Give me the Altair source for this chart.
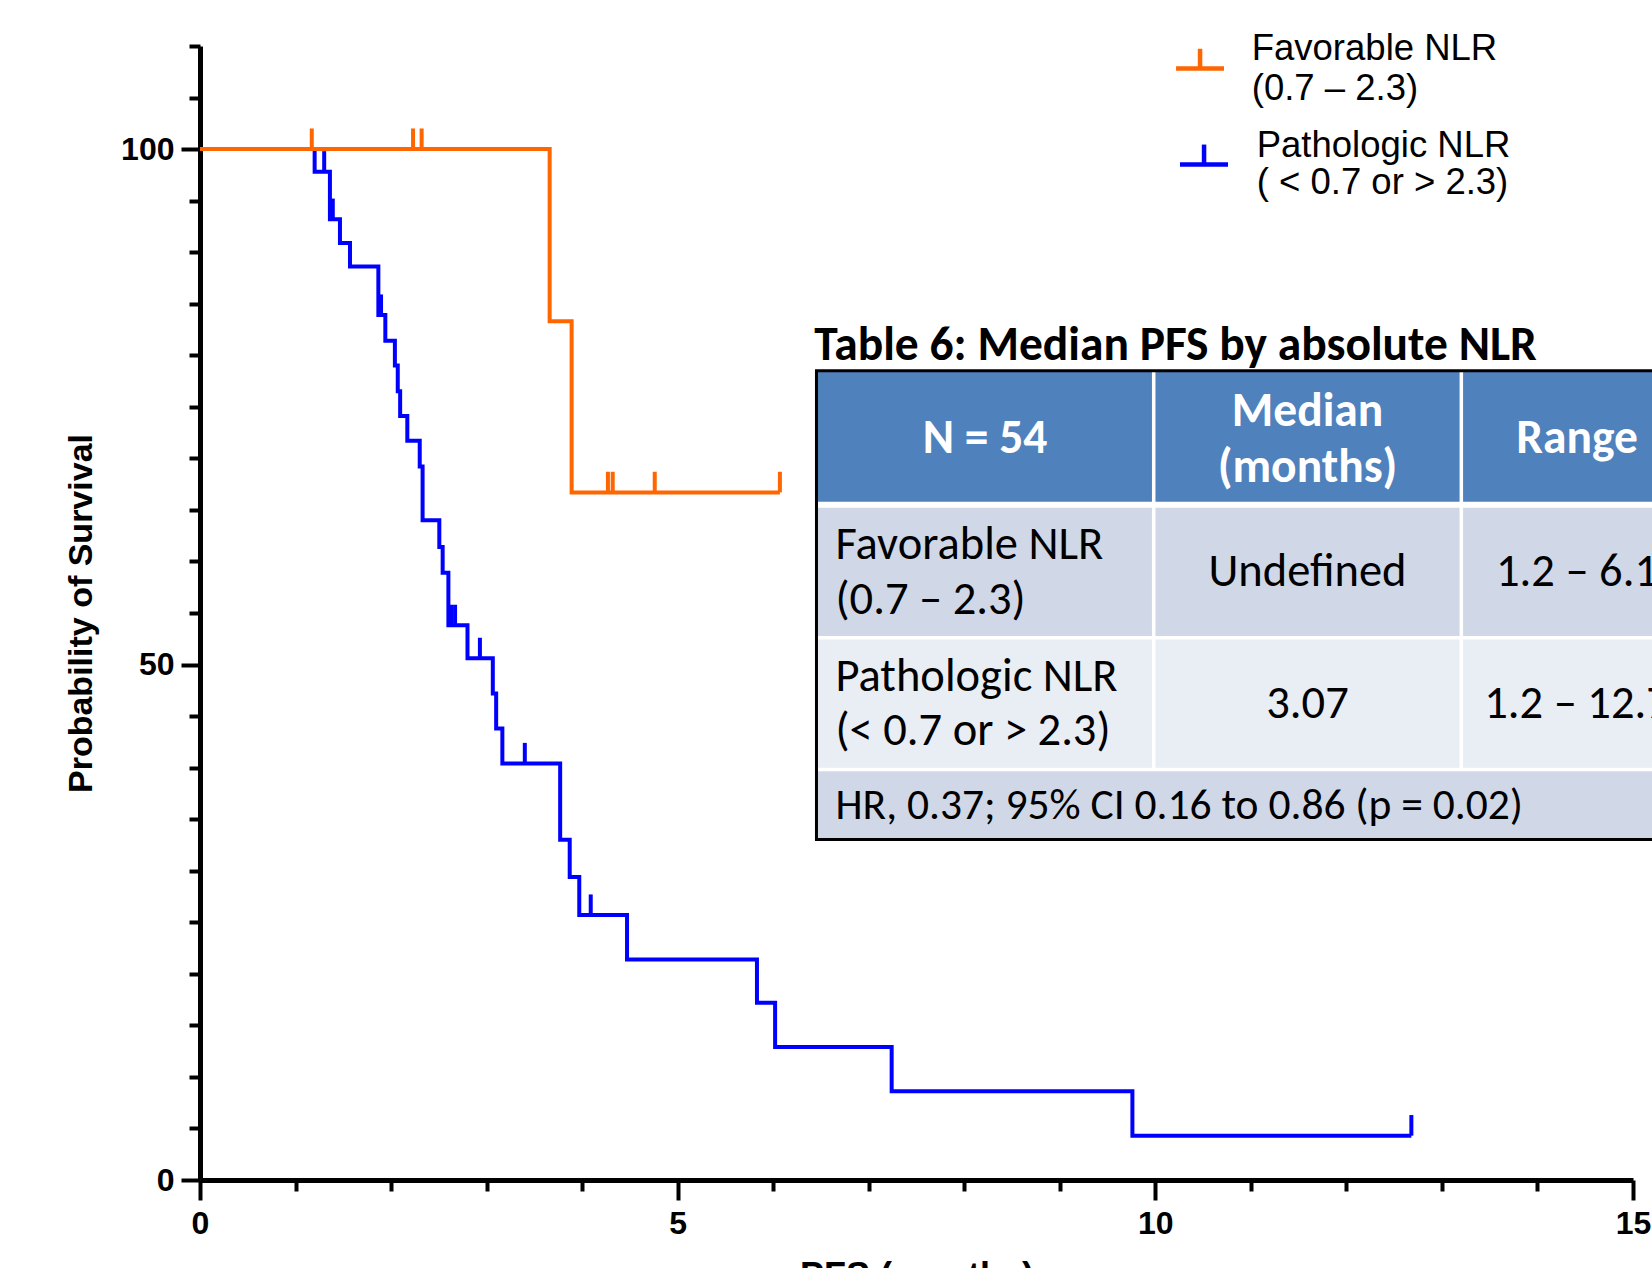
import altair as alt
import pandas as pd

# ---------------- data ----------------
fav_lines = ["Favorable NLR", "(0.7 – 2.3)"]
path_lines = ["Pathologic NLR", "( < 0.7 or > 2.3)"]

fav_time = [0.0, 3.66, 3.89, 6.07]
fav_surv = [100.0, 83.3, 66.7, 66.7]
fav_censor = [1.17, 2.23, 2.32, 4.27, 4.32, 4.76, 6.07]

path_time = [0.0, 1.20, 1.36, 1.465, 1.57, 1.867, 1.94, 2.04, 2.07, 2.095, 2.17, 2.30, 2.33,
             2.505, 2.54, 2.60, 2.80, 3.065, 3.10, 3.165, 3.77, 3.87, 3.97, 4.47, 5.83,
             6.02, 7.24, 9.76, 12.68]
path_surv = [100.0, 97.8, 93.2, 90.9, 88.6, 83.9, 81.4, 79.0, 76.5, 74.1, 71.7, 69.2, 64.0,
             61.4, 58.9, 53.8, 50.6, 47.2, 43.8, 40.4, 33.0, 29.4, 25.7, 21.4, 17.2,
             12.9, 8.6, 4.3, 4.3]
path_censor = [1.30, 1.39, 1.895, 2.63, 2.67, 2.93, 3.40, 4.09, 12.68]

x_ticks = list(range(0, 16))
y_ticks = list(range(0, 111, 5))

table_title = "Table 6: Median PFS by absolute NLR"
header_cells = ["N = 54", "Median", "(months)", "Range"]
row1_left = ["Favorable NLR", "(0.7 – 2.3)"]
row2_left = ["Pathologic NLR", "(< 0.7 or > 2.3)"]
row1_vals = ["Undefined", "1.2 – 6.1"]
row2_vals = ["3.07", "1.2 – 12.7"]
footer_text = "HR, 0.37; 95% CI 0.16 to 0.86 (p = 0.02)"

# ---------------- styles / layout (in chart data units) ----------------
ORANGE = "#FF6600"
BLUE = "#0000FF"
AX_FONT = "Liberation Sans"
TB_FONT = "Carlito, Lato, sans-serif"
CENSOR_H = 2.0

col_edges = [6.453, 9.983, 13.203, 16.2]
row_edges = [78.51, 65.5, 52.6, 39.83, 33.02]
row_fills = ["#4F81BD", "#D0D8E8", "#E9EDF4", "#D0D8E8"]
col_centers = [8.217, 11.593, 14.414]
text_left = 6.652


def surv_at(times, survs, t):
    v = survs[0]
    for ti, si in zip(times, survs):
        if ti <= t:
            v = si
    return v


xscale = alt.Scale(domain=[0, 15], nice=False, zero=False)
yscale = alt.Scale(domain=[0, 110], nice=False, zero=False)

xaxis = alt.Axis(
    values=x_ticks, grid=False, labelOverlap=False, labelFlush=False,
    labelExpr="datum.value % 5 === 0 ? datum.label : ''",
    tickSize={"condition": {"test": "datum.value % 5 === 0", "value": 20}, "value": 11},
    tickWidth=4, tickColor="black", domainColor="black", domainWidth=5,
    labelFont=AX_FONT, labelFontSize=32, labelFontWeight="bold", labelColor="black",
    labelPadding=8,
    title="PFS (months)", titleFont=AX_FONT, titleFontSize=36, titleFontWeight="bold",
    titleColor="black", titleY=107, titleBaseline="alphabetic",
)
yaxis = alt.Axis(
    values=y_ticks, grid=False, labelOverlap=False, labelFlush=False,
    labelExpr="datum.value % 50 === 0 ? datum.label : ''",
    tickSize={"condition": {"test": "datum.value % 50 === 0", "value": 19}, "value": 11},
    tickWidth=4, tickColor="black", domainColor="black", domainWidth=5,
    labelFont=AX_FONT, labelFontSize=32, labelFontWeight="bold", labelColor="black",
    labelPadding=7,
    title="Probability of Survival", titleFont=AX_FONT, titleFontSize=34,
    titleFontWeight="bold", titleColor="black", titleX=-119, titleBaseline="middle",
)


def X(f):
    return alt.X(f"{f}:Q", scale=xscale, axis=xaxis)


def Y(f):
    return alt.Y(f"{f}:Q", scale=yscale, axis=yaxis)


# ---------------- table ----------------
rect_df = pd.DataFrame({
    "x0": [col_edges[0]] * 4, "x1": [col_edges[-1]] * 4,
    "y0": row_edges[1:], "y1": row_edges[:-1], "fill": row_fills,
})
rects = alt.Chart(rect_df).mark_rect(strokeWidth=0).encode(
    x=X("x0"), x2="x1", y=Y("y0"), y2="y1", color=alt.Color("fill:N", scale=None))

sep_df = pd.DataFrame({
    "x0": [col_edges[0]] * 3 + [col_edges[1], col_edges[2]],
    "x1": [col_edges[-1]] * 3 + [col_edges[1], col_edges[2]],
    "y0": [row_edges[1], row_edges[2], row_edges[3], row_edges[3], row_edges[3]],
    "y1": [row_edges[1], row_edges[2], row_edges[3], row_edges[0], row_edges[0]],
    "w": [6, 3.5, 3.5, 3.5, 3.5],
})
seps = alt.Chart(sep_df).mark_rule(color="white").encode(
    x=X("x0"), x2="x1", y=Y("y0"), y2="y1", strokeWidth=alt.StrokeWidth("w:Q", scale=None))

border_df = pd.DataFrame({"x0": [col_edges[0]], "x1": [col_edges[-1]],
                          "y0": [row_edges[-1]], "y1": [row_edges[0]]})
border = alt.Chart(border_df).mark_rect(fillOpacity=0, stroke="black", strokeWidth=3).encode(
    x=X("x0"), x2="x1", y=Y("y0"), y2="y1")

title_df = pd.DataFrame({"x": [6.43], "y": [79.5], "text": [table_title]})
title_txt = alt.Chart(title_df).mark_text(
    align="left", baseline="alphabetic", font=TB_FONT, fontSize=47.5, fontWeight="bold",
    color="black").encode(x=X("x"), y=Y("y"), text="text:N")

head_df = pd.DataFrame({
    "x": [col_centers[0], col_centers[1], col_centers[1], col_centers[2]],
    "y": [71.91, 74.53, 69.1, 71.91], "text": header_cells})
head_txt = alt.Chart(head_df).mark_text(
    align="center", baseline="middle", font=TB_FONT, fontSize=47.5, fontWeight="bold",
    color="white").encode(x=X("x"), y=Y("y"), text="text:N")

left_df = pd.DataFrame({
    "x": [text_left] * 4,
    "y": [61.55, 56.24, 48.77, 43.56],
    "text": row1_left + row2_left})
left_txt = alt.Chart(left_df).mark_text(
    align="left", baseline="middle", font=TB_FONT, fontSize=46.5, color="black").encode(
    x=X("x"), y=Y("y"), text="text:N")

foot_df = pd.DataFrame({"x": [text_left], "y": [36.29], "text": [footer_text]})
foot_txt = alt.Chart(foot_df).mark_text(
    align="left", baseline="middle", font=TB_FONT, fontSize=43.5, color="black").encode(
    x=X("x"), y=Y("y"), text="text:N")

mid_df = pd.DataFrame({
    "x": [col_centers[1], col_centers[2], col_centers[1], col_centers[2]],
    "y": [58.99, 58.99, 46.21, 46.21], "text": row1_vals + row2_vals})
mid_txt = alt.Chart(mid_df).mark_text(
    align="center", baseline="middle", font=TB_FONT, fontSize=46.5, color="black").encode(
    x=X("x"), y=Y("y"), text="text:N")

# ---------------- survival curves ----------------
def curve_layers(times, survs, censors, color):
    line_df = pd.DataFrame({"t": times, "s": survs})
    line = alt.Chart(line_df).mark_line(
        interpolate="step-after", color=color, strokeWidth=4, strokeCap="butt").encode(
        x=X("t"), y=Y("s"))
    cs = [surv_at(times, survs, c) for c in censors]
    cen_df = pd.DataFrame({"t": censors, "s": cs, "s2": [v + CENSOR_H for v in cs]})
    ticks = alt.Chart(cen_df).mark_rule(color=color, strokeWidth=4).encode(
        x=X("t"), y=Y("s"), y2="s2")
    return [line, ticks]


path_layers = curve_layers(path_time, path_surv, path_censor, BLUE)
fav_layers = curve_layers(fav_time, fav_surv, fav_censor, ORANGE)

# ---------------- legend ----------------
leg_line_df = pd.DataFrame({
    "x0": [10.217, 10.468, 10.258, 10.51],
    "x1": [10.719, 10.468, 10.761, 10.51],
    "y0": [107.82, 107.82, 98.5, 98.5],
    "y1": [107.82, 109.73, 98.5, 100.44],
    "c": [ORANGE, ORANGE, BLUE, BLUE]})
leg_lines = alt.Chart(leg_line_df).mark_rule(strokeWidth=4.5).encode(
    x=X("x0"), x2="x1", y=Y("y0"), y2="y1", color=alt.Color("c:N", scale=None))

leg_txt_df = pd.DataFrame({
    "x": [11.009, 11.009, 11.061, 11.061],
    "y": [108.69, 104.78, 99.27, 95.62],
    "text": fav_lines + path_lines})
leg_txt = alt.Chart(leg_txt_df).mark_text(
    align="left", baseline="alphabetic", font=AX_FONT, fontSize=36.5, color="black").encode(
    x=X("x"), y=Y("y"), text="text:N")

chart = alt.layer(
    rects, seps, border, title_txt, head_txt, left_txt, foot_txt, mid_txt,
    *path_layers, *fav_layers, leg_lines, leg_txt,
).properties(
    width=1433, height=1134,
    autosize=alt.AutoSizeParams(type="none"),
    padding={"left": 200, "top": 46, "right": 19, "bottom": 88},
    background="white",
).configure_view(stroke="transparent")

chart.save("out.html", embed_options={"renderer": "svg", "actions": False})
